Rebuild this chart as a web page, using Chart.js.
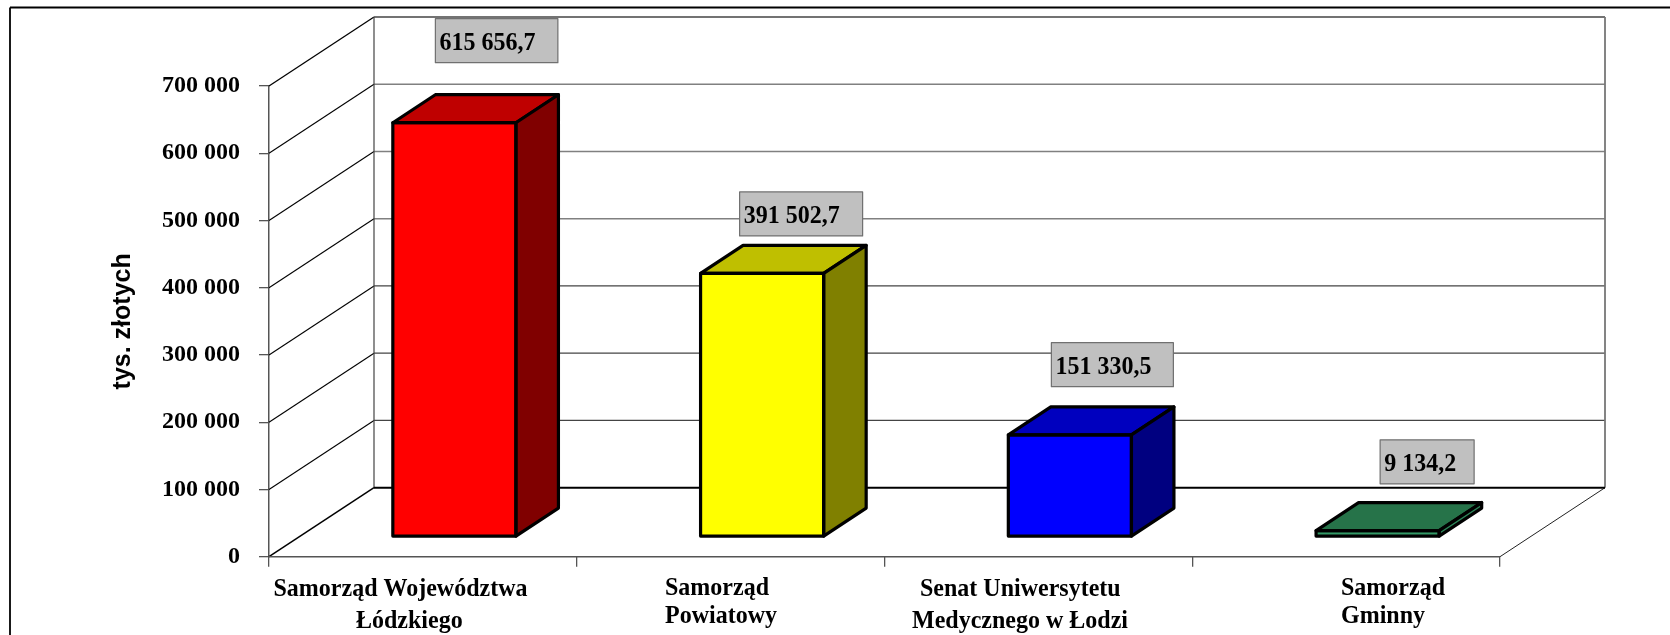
<!DOCTYPE html>
<html><head><meta charset="utf-8">
<style>html,body{margin:0;padding:0;background:#fff}canvas{display:block}</style>
<script src="https://cdn.jsdelivr.net/npm/chart.js@4"></script>
</head><body><canvas id="c" width="1670" height="635"></canvas>
<script>
const categories=[['Samorząd Województwa','Łódzkiego'],['Samorząd','Powiatowy'],['Senat Uniwersytetu','Medycznego w Łodzi'],['Samorząd','Gminny']];
const values=[615656.7,391502.7,151330.5,9134.2];
const yTickMax=700000, yTickStep=100000;
const frontColors=['#FF0000','#FFFF00','#0000FF','#339966'];
const topColors=['#BF0000','#BFBF00','#0000BF','#267349'];
const sideColors=['#800000','#808000','#000080','#2D8659'];
const axisTitle='tys. złotych';

// layout/styling
const SERIF='"Liberation Serif"', SANS='"Liberation Sans"';
const wall={dx:105,dy:-69};
const barFront={dx:31.5,dy:-20};
const barDepth={dx:42.5,dy:-28};
const labelBox=[{dx:-19,dy:-104,w:122.5},{dx:-22.5,dy:-81.5,w:123},{dx:-18.5,dy:-92.3,w:122},{dx:2.5,dy:-90.7,w:94}];
const labelH=44;
const catLayout=[
 [{x:273.5,y:596},{x:356,y:628}],
 [{x:665,y:595},{x:665,y:623}],
 [{x:920,y:596},{x:912,y:628}],
 [{x:1341,y:595},{x:1341,y:623}]];
const fmt=v=>{const [a,b]=v.toFixed(1).split('.');return a.replace(/\B(?=(\d{3})+$)/g,' ')+','+b;};
const tickFmt=v=>String(v).replace(/\B(?=(\d{3})+$)/g,' ');

const line=(c,x1,y1,x2,y2,col,w)=>{c.strokeStyle=col;c.lineWidth=w;c.beginPath();c.moveTo(x1,y1);c.lineTo(x2,y2);c.stroke();};
const poly=(c,pts,fill)=>{c.beginPath();pts.forEach((p,i)=>i?c.lineTo(p[0],p[1]):c.moveTo(p[0],p[1]));c.closePath();c.fillStyle=fill;c.fill();c.strokeStyle='#000';c.lineWidth=3.2;c.lineJoin='round';c.stroke();};
// slightly tall serif lettering, as in the reference
const tallText=(c,s,x,y)=>{c.save();c.translate(x,y);c.scale(1,1.06);c.fillText(s,0,0);c.restore();};

const plugin3d={id:'plugin3d',
 beforeDatasetsDraw(chart){
  const c=chart.ctx,y=chart.scales.y,a=chart.chartArea;c.save();
  // outer frame
  line(c,10,7.5,1670,7.5,'#000',1.8);line(c,10,7.5,10,635,'#000',1.8);
  // walls
  const ticks=y.ticks.map(t=>t.value);
  const bx=a.left+wall.dx,rx=a.right+wall.dx;
  ticks.forEach(v=>{
   const p=y.getPixelForValue(v),b=p+wall.dy;
   if(v===0||v===yTickMax)return;
   line(c,a.left,p,bx,b,'#000',1.1);
   line(c,bx,b,rx,b,v>=400000?'#808080':'#444',v>=400000?1.6:1.2);
  });
  const t0=y.getPixelForValue(0),tm=y.getPixelForValue(yTickMax);
  line(c,a.left,tm,bx,tm+wall.dy,'#000',1.3);
  line(c,bx,tm+wall.dy,rx,tm+wall.dy,'#444',1.4);
  line(c,bx,tm+wall.dy,bx,t0+wall.dy,'#444',1.2);
  line(c,rx,tm+wall.dy,rx,t0+wall.dy,'#777',1.8);
  line(c,a.left,t0,bx,t0+wall.dy,'#000',1.5);
  line(c,a.right,t0,rx,t0+wall.dy,'#222',1);
  line(c,bx,t0+wall.dy,rx,t0+wall.dy,'#000',2);
  line(c,a.left,t0,a.right,t0,'#555',1.5);
  c.restore();
  c.save();c.translate(barFront.dx,barFront.dy);
 },
 afterDatasetsDraw(chart){
  const c=chart.ctx,meta=chart.getDatasetMeta(0);
  meta.data.forEach((b,i)=>{
   const l=b.x-b.width/2,r=b.x+b.width/2,t=b.y,bo=b.base,d=barDepth;
   poly(c,[[l,t],[r,t],[r+d.dx,t+d.dy],[l+d.dx,t+d.dy]],topColors[i]);
   poly(c,[[r,t],[r+d.dx,t+d.dy],[r+d.dx,bo+d.dy],[r,bo]],sideColors[i]);
   c.strokeStyle='#000';c.lineWidth=3.2;c.strokeRect(l,t,r-l,bo-t);
  });
  // value labels
  meta.data.forEach((b,i)=>{
   const L=labelBox[i],x=b.x+L.dx,y=b.y+L.dy;
   c.fillStyle='#C0C0C0';c.fillRect(x,y,L.w,labelH);
   c.strokeStyle='#707070';c.lineWidth=1.2;c.strokeRect(x,y,L.w,labelH);
   c.fillStyle='#000';c.font='bold 24px '+SERIF;c.textAlign='left';c.textBaseline='alphabetic';
   tallText(c,fmt(values[i]),x+4,y+31);
  });
  c.restore();
  // category labels
  c.save();c.fillStyle='#000';c.font='bold 24px '+SERIF;c.textAlign='left';c.textBaseline='alphabetic';
  categories.forEach((lines,i)=>lines.forEach((s,j)=>tallText(c,s,catLayout[i][j].x,catLayout[i][j].y)));
  c.restore();
 }
};

new Chart(document.getElementById('c'),{
 type:'bar',
 data:{labels:categories,datasets:[{data:values,backgroundColor:frontColors,borderWidth:0,barPercentage:0.4,categoryPercentage:1}]},
 plugins:[plugin3d],
 options:{
  responsive:false,animation:false,
  layout:{padding:{top:86,right:170,left:0,bottom:0}},
  plugins:{legend:{display:false},tooltip:{enabled:false},title:{display:false}},
  scales:{
   x:{afterFit(s){s.height=78.3;},
      grid:{drawOnChartArea:false,drawTicks:true,tickLength:10,color:'#555',lineWidth:1.3},
      border:{display:false},
      ticks:{display:false}},
   y:{min:0,max:yTickMax,afterFit(s){s.width=269;},
      afterBuildTicks(s){s.ticks=[];for(let v=0;v<=yTickMax;v+=yTickStep)s.ticks.push({value:v});},
      grid:{drawOnChartArea:false,drawTicks:true,tickLength:10,color:'#555',lineWidth:1.3},
      border:{display:true,color:'#555',width:1.5},
      ticks:{padding:19,color:'#000',font:{family:SERIF,size:24,weight:'bold'},callback:v=>tickFmt(v)},
      title:{display:true,text:axisTitle,color:'#000',font:{family:SANS,size:25,weight:'bold'},padding:{top:108,bottom:0}}}
  }
 }
});
</script></body></html>
